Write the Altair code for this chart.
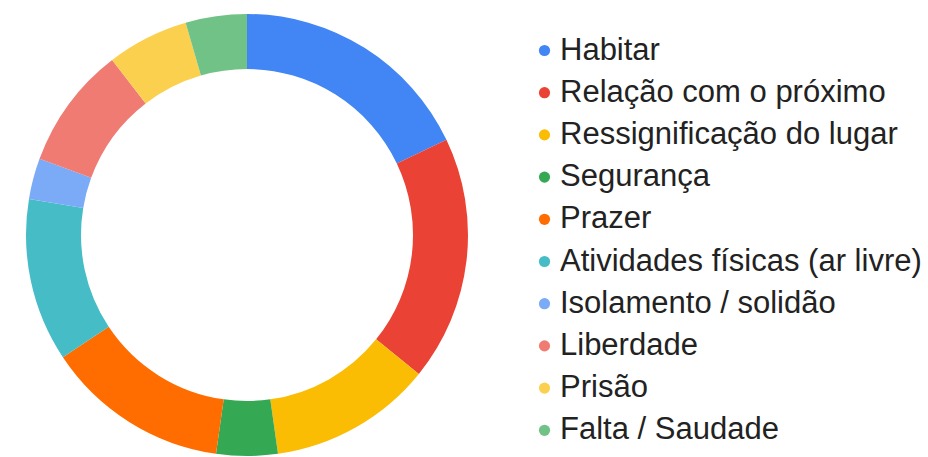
import altair as alt
import pandas as pd

categories = [
    "Habitar",
    "Relação com o próximo",
    "Ressignificação do lugar",
    "Segurança",
    "Prazer",
    "Atividades físicas (ar livre)",
    "Isolamento / solidão",
    "Liberdade",
    "Prisão",
    "Falta / Saudade",
]
values = [12, 12, 8, 3, 9, 8, 2, 6, 4, 3]
colors = ["#4285F4", "#EA4335", "#FBBC04", "#34A853", "#FF6D01",
          "#46BDC6", "#7BAAF7", "#F07B72", "#FCD04F", "#71C287"]

df = pd.DataFrame({"cat": categories, "val": values, "idx": list(range(len(categories)))})

chart = alt.Chart(df).mark_arc(radius=221, radius2=166).encode(
    theta=alt.Theta("val:Q", stack=True),
    order=alt.Order("idx:Q", sort="ascending"),
    x=alt.value(247),
    y=alt.value(235),
    color=alt.Color(
        "cat:N",
        scale=alt.Scale(domain=categories, range=colors),
        sort=categories,
        legend=alt.Legend(
            title=None,
            orient="none",
            legendX=529,
            legendY=35,
            padding=0,
            symbolType="circle",
            symbolSize=125,
            symbolStrokeWidth=0,
            labelFont="Liberation Sans, Arial",
            labelFontSize=31,
            labelColor="#222222",
            labelLimit=500,
            labelOffset=0,
            rowPadding=10.2,
        ),
    ),
).properties(
    width=928,
    height=457,
    padding=0,
    autosize=alt.AutoSizeParams(type="none"),
).configure_view(stroke=None)

chart.save("out.html", embed_options={"renderer": "svg", "actions": False})
